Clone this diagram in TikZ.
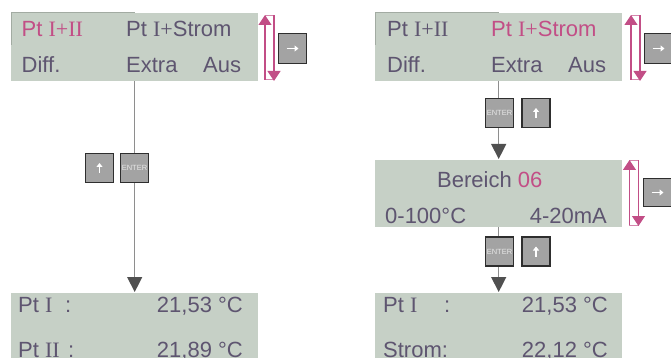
\documentclass[tikz,border=0pt]{standalone}
\usepackage{fontspec}
\setmainfont{Liberation Sans}
\newfontfamily\rmser{Liberation Serif}
\usetikzlibrary{arrows.meta}
\definecolor{lcd}{HTML}{C6D0C6}
\definecolor{lcdedge}{HTML}{A2ABA2}
\definecolor{txt}{HTML}{5E5570}
\definecolor{mag}{HTML}{C24E86}
\definecolor{maglight}{HTML}{D487AE}
\definecolor{keyfill}{HTML}{A3A3A3}
\definecolor{keyedge}{HTML}{2E2E2E}
\definecolor{linegrey}{HTML}{8E8E8E}
\definecolor{tipgrey}{HTML}{505050}
\definecolor{entertxt}{HTML}{E6E6E6}
\tikzset{
  lcdbox/.style={fill=lcd, draw=none, anchor=north west, minimum width=247pt, minimum height=68pt, inner sep=0pt},
  lcdtext/.style={anchor=base west, inner sep=0pt, text=txt, font=\fontsize{22}{22}\selectfont},
  lcdtextr/.style={lcdtext, anchor=base east},
  keybox/.style={fill=keyfill, draw=keyedge, line width=1.2pt, minimum width=28pt, minimum height=29pt, inner sep=0pt},
  entertext/.style={text=entertxt, font=\fontsize{7.5}{7.5}\selectfont},
  conn/.style={draw=linegrey, line width=1.3pt, -{Triangle[width=15pt,length=15pt,color=tipgrey]}, shorten >=1pt},
  keyarrow/.style={draw=white, line width=1.6pt, -{Triangle[width=6pt,length=4pt]}},
  indline/.style={draw=mag, line width=1.1pt, -{Triangle[width=13pt,length=10pt]}},
  indframe/.style={draw=maglight, line width=1pt},
}
\begin{document}
\begin{tikzpicture}[x=1pt,y=-1pt]
\useasboundingbox (0,0) rectangle (671,358);
\clip (0,0) rectangle (671,358);

% LCD panels
\node[lcdbox] (A) at (11,13) {};
\node[lcdbox] (B) at (375,13) {};
\node[lcdbox, minimum height=67pt] (D) at (375,160) {};
\node[lcdbox, minimum height=70pt] (C) at (11,293) {};
\node[lcdbox, minimum height=70pt] (E) at (375,293) {};

% darker edges at top-left of upper panels
\draw[lcdedge, line width=1pt] ([yshift=-32pt]A.north west) -- (A.north west) -- ([xshift=124pt]A.north west);
\draw[lcdedge, line width=1pt] ([yshift=-32pt]B.north west) -- (B.north west) -- ([xshift=124pt]B.north west);

% connectors
\draw[conn] (A.south) -- (A.south |- C.north);
\draw[conn] (B.south) -- (B.south |- D.north);
\draw[conn] (D.south) -- (D.south |- E.north);

% keys, left column
\node[keybox] (kupL) at (99.5,168) {};
\draw[keyarrow] ([yshift=-5pt]kupL.center) -- ([yshift=5pt]kupL.center);
\node[keybox] (kentL) at (134.5,168) {};
\node[entertext] (tentL) at (kentL.center) {ENTER};

% keys, right column (top)
\node[keybox] (kentR1) at (499.5,113) {};
\node[entertext] (tentR1) at (kentR1.center) {ENTER};
\node[keybox] (kupR1) at (536,113) {};
\draw[keyarrow] ([yshift=-5pt]kupR1.center) -- ([yshift=5pt]kupR1.center);

% keys, right column (bottom)
\node[keybox] (kentR2) at (499.5,251.5) {};
\node[entertext] (tentR2) at (kentR2.center) {ENTER};
\node[keybox] (kupR2) at (536,251.5) {};
\draw[keyarrow] ([yshift=-5pt]kupR2.center) -- ([yshift=5pt]kupR2.center);

% right-arrow keys
\node[keybox, minimum height=30pt] (krA) at (292.5,48.5) {};
\draw[keyarrow] ([xshift=-6pt]krA.center) -- ([xshift=6pt]krA.center);
\node[keybox, minimum height=30pt] (krB) at (658.5,48.5) {};
\draw[keyarrow] ([xshift=-6pt]krB.center) -- ([xshift=6pt]krB.center);
\node[keybox, minimum height=28pt] (krD) at (657.5,192.5) {};
\draw[keyarrow] ([xshift=-6pt]krD.center) -- ([xshift=6pt]krD.center);

% up/down indicators
\draw[indframe] (265,15.5) rectangle (274,80);
\draw[indline] (265,80) -- (265,15);
\draw[indline] (274,15.5) -- (274,81);
\draw[indframe] (631,15.5) rectangle (640,80);
\draw[indline] (631,80) -- (631,15);
\draw[indline] (640,15.5) -- (640,81);
\draw[indframe] (629.5,160.5) rectangle (638.5,225);
\draw[indline] (629.5,225) -- (629.5,160);
\draw[indline] (638.5,160.5) -- (638.5,226);

% texts panel A
\node[lcdtext, text=mag] (a1) at (21.5,37) {Pt {\rmser I+II}};
\node[lcdtext] (a2) at (126,37) {Pt {\rmser I+}Strom};
\node[lcdtext] (a3) at (21.5,73) {Diff.};
\node[lcdtext] (a4) at (126,73) {Extra};
\node[lcdtext] (a5) at (203,73) {Aus};

% texts panel B
\node[lcdtext] (b1) at (387,37) {Pt {\rmser I+II}};
\node[lcdtext, text=mag] (b2) at (491,37) {Pt {\rmser I+}Strom};
\node[lcdtext] (b3) at (387,73) {Diff.};
\node[lcdtext] (b4) at (491,73) {Extra};
\node[lcdtext] (b5) at (568,73) {Aus};

% texts panel D
\node[lcdtext] (d1) at (437,187) {Bereich \textcolor{mag}{06}};
\node[lcdtext] (d2) at (385,223) {0-100°C};
\node[lcdtextr] (d3) at (607,223) {4-20mA};

% texts panel C
\node[lcdtext] (c1) at (18,312) {Pt {\rmser I}};
\node[lcdtext] (c2) at (65,312) {:};
\node[lcdtextr] (c3) at (243,312) {21,53 °C};
\node[lcdtext] (c4) at (18,357) {Pt {\rmser II}};
\node[lcdtext] (c5) at (68,357) {:};
\node[lcdtextr] (c6) at (243,357) {21,89 °C};

% texts panel E
\node[lcdtext] (e1) at (383,312) {Pt {\rmser I}};
\node[lcdtext] (e2) at (444,312) {:};
\node[lcdtextr] (e3) at (608,312) {21,53 °C};
\node[lcdtext] (e4) at (383,357) {Strom:};
\node[lcdtextr] (e5) at (608,357) {22,12 °C};
\end{tikzpicture}
\end{document}
